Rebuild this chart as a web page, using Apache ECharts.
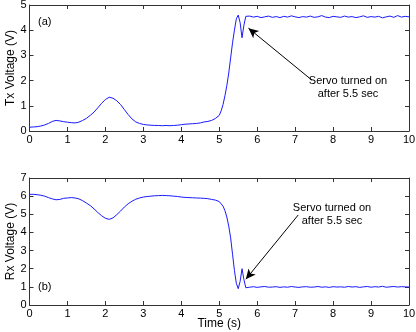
<!DOCTYPE html>
<html>
<head>
<meta charset="utf-8">
<script src="https://cdn.jsdelivr.net/npm/echarts@6/dist/echarts.min.js"></script>
<style>
html, body { margin: 0; padding: 0; background: #fff; }
#chart-1 { width: 416px; height: 332px; }
</style>
</head>
<body>
<div id="chart-1"></div>
<script>
/************************        Data       **********************************************/
var time = [
    0, 0.1, 0.2, 0.3, 0.4, 0.5, 0.6, 0.7, 0.8, 0.9,
    1.0, 1.1, 1.2, 1.3, 1.4, 1.5, 1.6, 1.7, 1.8, 1.9,
    2.0, 2.1, 2.2, 2.3, 2.4, 2.5, 2.6, 2.7, 2.8, 2.9,
    3.0, 3.1, 3.2, 3.3, 3.4, 3.5, 3.6, 3.7, 3.8, 3.9,
    4.0, 4.1, 4.2, 4.3, 4.4, 4.5, 4.6, 4.7, 4.8, 4.9,
    5.0, 5.05, 5.1, 5.15, 5.2, 5.25, 5.3, 5.35, 5.4, 5.45,
    5.5, 5.55, 5.6, 5.65, 5.7, 5.75, 5.8, 5.9,
    6.0, 6.1, 6.2, 6.3, 6.4, 6.5, 6.6, 6.7, 6.8, 6.9,
    7.0, 7.1, 7.2, 7.3, 7.4, 7.5, 7.6, 7.7, 7.8, 7.9,
    8.0, 8.1, 8.2, 8.3, 8.4, 8.5, 8.6, 8.7, 8.8, 8.9,
    9.0, 9.1, 9.2, 9.3, 9.4, 9.5, 9.6, 9.7, 9.8, 9.9,
    10.0
];

var txVolt = [
    0.15, 0.16, 0.17, 0.2, 0.24, 0.3, 0.38, 0.42, 0.4, 0.37,
    0.35, 0.33, 0.32, 0.35, 0.42, 0.5, 0.62, 0.75, 0.92, 1.1,
    1.25, 1.34, 1.3, 1.2, 1.05, 0.85, 0.65, 0.48, 0.36, 0.3,
    0.26, 0.24, 0.23, 0.22, 0.22, 0.21, 0.22, 0.21, 0.22, 0.23,
    0.25, 0.27, 0.28, 0.29, 0.3, 0.32, 0.36, 0.38, 0.42, 0.5,
    0.62, 0.8, 1.05, 1.4, 1.8, 2.3, 2.9, 3.5, 4.0, 4.45,
    4.6, 4.3, 3.7, 4.2, 4.55, 4.52, 4.56, 4.52,
    4.55, 4.5, 4.53, 4.56, 4.51, 4.54, 4.5, 4.55, 4.52, 4.57,
    4.53, 4.5, 4.54, 4.52, 4.56, 4.51, 4.53, 4.58, 4.52, 4.5,
    4.55, 4.53, 4.51, 4.56, 4.52, 4.54, 4.5, 4.53, 4.57, 4.51,
    4.54, 4.52, 4.55, 4.49, 4.53, 4.56, 4.51, 4.58, 4.52, 4.55,
    4.53
];

var rxVolt = [
    6.1, 6.1, 6.08, 6.05, 6.0, 5.92, 5.85, 5.8, 5.82, 5.88,
    5.9, 5.92, 5.9, 5.85, 5.75, 5.62, 5.48, 5.3, 5.1, 4.92,
    4.78, 4.72, 4.8, 4.98, 5.18, 5.4, 5.58, 5.72, 5.83, 5.9,
    5.95, 5.98, 6.0, 6.02, 6.03, 6.04, 6.03, 6.02, 6.0, 5.98,
    5.95, 5.93, 5.92, 5.91, 5.9, 5.89, 5.88, 5.86, 5.82, 5.78,
    5.7, 5.6, 5.45, 5.2, 4.85, 4.35, 3.7, 2.8, 1.9, 1.2,
    0.9, 1.3, 2.0, 1.4, 0.95, 1.0, 0.98, 1.01,
    0.97, 1.0, 1.02, 0.98, 0.99, 1.01, 0.97, 1.0, 0.98, 1.02,
    0.99, 0.97, 1.0, 1.01, 0.98, 0.99, 1.02, 0.98, 1.0, 0.97,
    1.01, 0.99, 1.0, 0.98, 1.02, 0.99, 1.01, 0.97, 1.0, 1.02,
    0.98, 1.01, 0.99, 1.03, 0.98, 1.0, 1.02, 0.99, 1.01, 1.0,
    0.99
];

var txArrow = [[7.44, 2.02], [5.77, 4.08]];
var rxArrow = [[7.08, 4.96], [5.70, 1.42]];

/************************        Chart       **************************/
var dom = document.getElementById("chart-1");
var myChart = echarts.init(dom, null, {renderer: 'canvas'});
var font = 'Liberation Sans, Arial, Helvetica, sans-serif';
var frame = '#333';
var blue = '#1a1aff';

function pairs(ys) {
    return time.map(function (t, i) { return [t, ys[i]]; });
}

function xAx(grid, pos, labels, name) {
    return {
        type: 'value', gridIndex: grid, position: pos,
        min: 0, max: 10, interval: 1,
        name: name || '', nameLocation: 'middle', nameGap: 13, nameMoveOverlap: false,
        nameTextStyle: {fontFamily: font, fontSize: 12, color: '#000'},
        axisLine: {show: true, onZero: false, lineStyle: {color: frame, width: 1}},
        axisTick: {show: true, inside: true, length: 4, lineStyle: {color: frame}},
        axisLabel: {show: labels, margin: 3, fontFamily: font, fontSize: 11, color: '#000'},
        splitLine: {show: false}
    };
}

function yAx(grid, pos, labels, max, name) {
    return {
        type: 'value', gridIndex: grid, position: pos,
        min: 0, max: max, interval: 1,
        name: name || '', nameLocation: 'middle', nameGap: 13, nameMoveOverlap: false,
        nameTextStyle: {fontFamily: font, fontSize: 12, color: '#000'},
        axisLine: {show: true, onZero: false, lineStyle: {color: frame, width: 1}},
        axisTick: {show: true, inside: true, length: 4, lineStyle: {color: frame}},
        axisLabel: {show: labels, margin: 3, fontFamily: font, fontSize: 11, color: '#000'},
        splitLine: {show: false}
    };
}

function arrow(a) {
    return {
        silent: true,
        symbol: ['none', 'arrow'],
        symbolSize: [7, 10],
        label: {show: false},
        lineStyle: {color: '#000', width: 1, type: 'solid'},
        data: [[{coord: a[0]}, {coord: a[1]}]],
        animation: false
    };
}

option = {
    animation: false,
    grid: [
        {left: 29.5, right: 7, top: 5, height: 126, containLabel: false, outerBoundsMode: 'none'},
        {left: 29.5, right: 7, top: 178, height: 127, containLabel: false, outerBoundsMode: 'none'}
    ],
    xAxis: [
        xAx(0, 'bottom', true),
        xAx(0, 'top', false),
        xAx(1, 'bottom', true, 'Time (s)'),
        xAx(1, 'top', false)
    ],
    yAxis: [
        yAx(0, 'left', true, 5, 'Tx Voltage (V)'),
        yAx(0, 'right', false, 5),
        yAx(1, 'left', true, 7, 'Rx Voltage (V)'),
        yAx(1, 'right', false, 7)
    ],
    series: [
        {
            type: 'line', xAxisIndex: 0, yAxisIndex: 0,
            data: pairs(txVolt), showSymbol: false,
            lineStyle: {color: blue, width: 1},
            markLine: arrow(txArrow)
        },
        {
            type: 'line', xAxisIndex: 2, yAxisIndex: 2,
            data: pairs(rxVolt), showSymbol: false,
            lineStyle: {color: blue, width: 1},
            markLine: arrow(rxArrow)
        }
    ],
    graphic: [
        {type: 'text', left: 38, top: 16, style: {text: '(a)', font: '11px ' + font, fill: '#000'}},
        {type: 'text', left: 38, top: 281, style: {text: '(b)', font: '11px ' + font, fill: '#000'}},
        {type: 'text', x: 348, y: 74, style: {text: 'Servo turned on\nafter 5.5 sec', font: '11px ' + font, fill: '#000', align: 'center', lineHeight: 13}},
        {type: 'text', x: 332, y: 201, style: {text: 'Servo turned on\nafter 5.5 sec', font: '11px ' + font, fill: '#000', align: 'center', lineHeight: 13}}
    ]
};

myChart.setOption(option);
</script>
</body>
</html>
